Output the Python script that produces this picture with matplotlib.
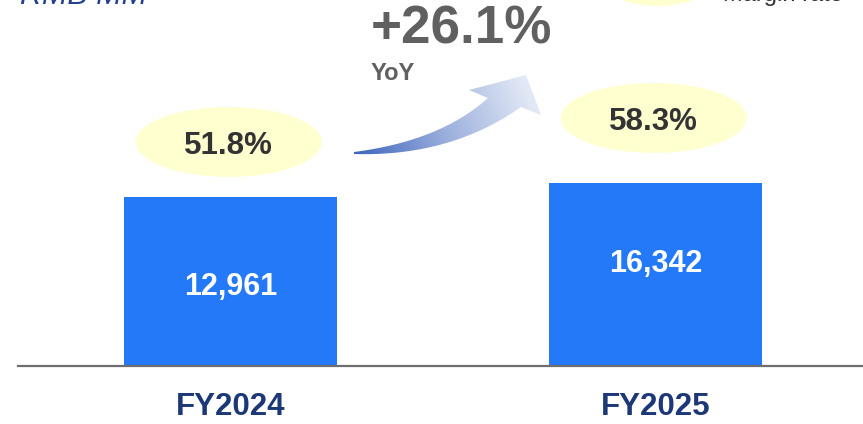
import numpy as np
import matplotlib
matplotlib.use('Agg')
import matplotlib.pyplot as plt
from matplotlib import transforms
from matplotlib.patches import Ellipse, PathPatch
from matplotlib.path import Path
from matplotlib.colors import LinearSegmentedColormap

plt.rcParams['font.family'] = ['Liberation Sans', 'DejaVu Sans']

# data
years = ['FY2024', 'FY2025']
revenue = [12961, 16342]
margin = [51.8, 58.3]
yoy = 26.1
unit_label = 'RMB MM'
legend_label = 'Margin rate'

W, H = 863, 424
fig = plt.figure(figsize=(W / 100, H / 100), dpi=100)

# main axes: baseline at 366px from top, starts at x=18px
ax = fig.add_axes([18 / W, 58 / H, 1 - 18 / W, 1 - 58 / H])
y_floor, y_top = -27925, 60464   # truncated value axis as in the slide
x = np.arange(len(years))
vals = np.array(revenue)
ax.bar(x, vals - y_floor, bottom=y_floor, width=213 / 425, color='#2479f8', zorder=2)
ax.set_xlim(-0.5, (W - 230.5) / 425)
ax.set_ylim(y_floor, y_top)
for s in ['top', 'right', 'left']:
    ax.spines[s].set_visible(False)
ax.spines['bottom'].set_color('#6e6e6e')
ax.spines['bottom'].set_linewidth(1.6)
ax.set_xticks([])
ax.set_yticks([])
ax.patch.set_alpha(0)

# overlay in pixel coords for the annotations
ov = fig.add_axes([0, 0, 1, 1])
ov.set_xlim(0, W)
ov.set_ylim(H, 0)
ov.axis('off')
ov.patch.set_alpha(0)
bt = transforms.blended_transform_factory(ax.transData, ov.transData)

# value labels inside bars
val_y = [295, 272]
for xi, v, yy in zip(x, revenue, val_y):
    ov.text(xi, yy, f'{v:,}', transform=bt, ha='center', va='baseline',
            color='white', fontsize=22, fontweight='bold')

# margin bubbles
bub_y = [142, 118]
lab_y = [153.5, 130]
for xi, m, by, ly in zip(x, margin, bub_y, lab_y):
    ov.add_patch(Ellipse((xi - 0.004, by), 186 / 425, 70, transform=bt,
                         facecolor='#ffffd0', edgecolor='none'))
    ov.text(xi - 0.004, ly, f'{m:.1f}%', transform=bt, ha='center', va='baseline',
            color='#333333', fontsize=22.5, fontweight='bold')

# category labels
for xi, lab in zip(x, years):
    ov.text(xi, 415, lab, transform=bt, ha='center', va='baseline',
            color='#1d3877', fontsize=22.5, fontweight='bold')

# YoY text
ov.text(371, 43.5, f'+{yoy:.1f}%', ha='left', va='baseline', color='#606060',
        fontsize=38.2, fontweight='bold')
ov.text(371, 80, 'YoY', ha='left', va='baseline', color='#606060',
        fontsize=17, fontweight='bold')

# curved gradient arrow
def quad(p0, c, p1, n=30):
    t = np.linspace(0, 1, n)[:, None]
    return (1 - t) ** 2 * np.array(p0) + 2 * (1 - t) * t * np.array(c) + t ** 2 * np.array(p1)

top = quad((354, 152), (440, 141), (488, 98))
bot = quad((521, 107), (450, 157), (354, 154))
head = np.array([(469, 90), (526, 75), (541, 115)])
pts = np.vstack([top, head, bot])
codes = [Path.MOVETO] + [Path.LINETO] * (len(pts) - 1)
arrow = PathPatch(Path(np.vstack([pts, pts[:1]]), codes + [Path.CLOSEPOLY]),
                  facecolor='none', edgecolor='none', transform=ov.transData)
ov.add_patch(arrow)
gx, gy = np.meshgrid(np.linspace(350, 545, 200), np.linspace(70, 160, 100))
d = np.array([525 - 355, 85 - 153], dtype=float)
tt = ((gx - 355) * d[0] + (gy - 153) * d[1]) / (d @ d)
cmap = LinearSegmentedColormap.from_list('arr', ['#3f66bd', '#9cb0dd', '#e2e8f5'])
im = ov.imshow(np.clip(tt, 0, 1), extent=(350, 545, 160, 70), cmap=cmap,
               vmin=0, vmax=1, aspect='auto', interpolation='bilinear', zorder=3)
im.set_clip_path(arrow)
ov.set_xlim(0, W)
ov.set_ylim(H, 0)

# header items, cropped at the top edge as in the reference
ov.text(20, 4, unit_label, ha='left', va='baseline', color='#23408e',
        fontsize=22, fontstyle='italic')
ov.add_patch(Ellipse((658, -19), 110, 50, facecolor='#ffffd0', edgecolor='none'))
ov.text(723, 1.5, legend_label, ha='left', va='baseline', color='#333333', fontsize=17)

fig.savefig('out.png', dpi=100)
